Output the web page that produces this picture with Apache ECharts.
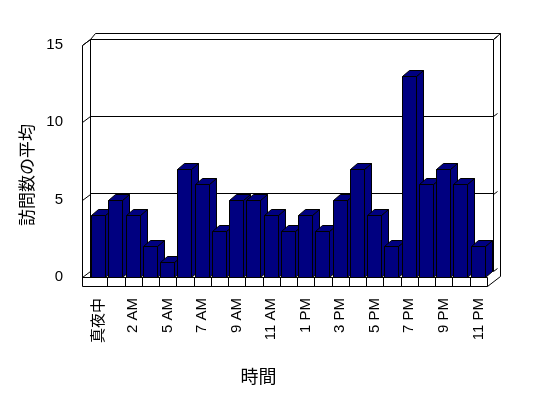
<!DOCTYPE html>
<html>
<head>
<meta charset="utf-8">
<script src="https://cdn.jsdelivr.net/npm/echarts@6/dist/echarts.min.js"></script>
<style>
html, body { margin: 0; padding: 0; background: #fff; }
#main { width: 548px; height: 398px; }
</style>
</head>
<body>
<div id="main"></div>
<script>
// data
var hours = ['真夜中', '1 AM', '2 AM', '3 AM', '5 AM', '6 AM', '7 AM', '8 AM', '9 AM', '10 AM', '11 AM', '12 PM',
    '1 PM', '2 PM', '3 PM', '4 PM', '5 PM', '6 PM', '7 PM', '8 PM', '9 PM', '10 PM', '11 PM'];
var visits = [4, 5, 4, 2, 1, 7, 6, 3, 5, 5, 4, 3, 4, 3, 5, 7, 4, 2, 13, 6, 7, 6, 2];
var yMin = 0, yMax = 15, yStep = 5;

// 3d frame layout
var DX = 8, DY = 6;
var FL = 82.5, BL = 90.5, BR = 493.5, OR = 500.5, FR = 487.5;
var TOP_OUT = 33.5, TOP_IN = 39.5, FLOOR = 277.5, FLOOR_B = 286.5;
var navy = '#000080';
var font = 'Liberation Sans, Arial, Noto Sans CJK JP, sans-serif';

var myChart = echarts.init(document.getElementById('main'));

function bar3d(params, api) {
    var top = api.coord([api.value(0), api.value(1)]);
    var base = api.coord([api.value(0), 0]);
    var w = api.size([1, 0])[0];
    var x0 = Math.round(top[0] - w / 2 + 1) + 0.5;
    var x1 = x0 + 14;
    var yt = Math.round(top[1]) + 0.5;
    var yb = Math.round(base[1]) + 0.5;
    var st = { fill: navy, stroke: '#000', lineWidth: 1 };
    return {
        type: 'group',
        children: [
            { type: 'polygon', shape: { points: [[x1, yt], [x1 + DX - 1, yt - DY], [x1 + DX - 1, yb - DY], [x1, yb]] }, style: st },
            { type: 'polygon', shape: { points: [[x0, yt], [x0 + DX - 1, yt - DY], [x1 + DX - 1, yt - DY], [x1, yt]] }, style: st },
            { type: 'rect', shape: { x: x0, y: yt, width: x1 - x0, height: yb - yt }, style: st }
        ]
    };
}

var option = {
    backgroundColor: '#fff',
    animation: false,
    grid: [
        { left: 90, right: 61, top: 45, bottom: 121 },
        { left: 90, right: 55, top: 39, bottom: 127 }
    ],
    xAxis: [
        {
            type: 'category',
            gridIndex: 0,
            data: hours,
            boundaryGap: true,
            axisLine: { show: false },
            axisTick: { show: false },
            axisLabel: { interval: 1, rotate: 90, margin: 21, color: '#000', fontSize: 15, fontFamily: font },
            name: '時間',
            nameLocation: 'middle',
            nameGap: 90,
            nameTextStyle: { color: '#000', fontSize: 18, fontFamily: 'Noto Sans CJK JP', padding: [0, 60, 0, 0] }
        },
        {
            type: 'category',
            gridIndex: 1,
            data: hours,
            show: false
        }
    ],
    yAxis: [
        {
            type: 'value',
            gridIndex: 0,
            min: yMin,
            max: yMax,
            interval: yStep,
            offset: 8,
            axisLine: { show: false },
            axisTick: { show: false },
            splitLine: { show: false },
            axisLabel: { margin: 19, color: '#000', fontSize: 15, fontFamily: font },
            name: '訪問数の平均',
            nameLocation: 'middle',
            nameGap: 45,
            nameTextStyle: { color: '#000', fontSize: 17, fontFamily: 'Noto Sans CJK JP', padding: [0, 28, 0, 0] }
        },
        {
            type: 'value',
            gridIndex: 1,
            min: yMin,
            max: yMax,
            interval: yStep,
            axisLine: { show: false },
            axisTick: { show: false },
            axisLabel: { show: false },
            splitLine: { show: true, lineStyle: { color: '#000', width: 1 } }
        }
    ],
    series: [
        {
            type: 'custom',
            xAxisIndex: 0,
            yAxisIndex: 0,
            z: 5,
            renderItem: bar3d,
            data: visits.map(function (v, i) { return [i, v]; })
        }
    ]
};

myChart.setOption(option);

// frame lines: walls and floor
function ln(x1, y1, x2, y2, z) {
    return { type: 'line', z: z || 1, silent: true, shape: { x1: x1, y1: y1, x2: x2, y2: y2 }, style: { stroke: '#000', lineWidth: 1 } };
}
var frame = [
    ln(FL, FLOOR - 232, FL, FLOOR_B, 10),
    ln(BL, TOP_IN, BL, FLOOR, 1),
    ln(FL, FLOOR - 232, BL, TOP_IN, 1),
    ln(BL, TOP_IN, BL + 5, TOP_OUT, 1),
    ln(BL + 5, TOP_OUT, OR, TOP_OUT, 1),
    ln(BR, TOP_IN, BR, FLOOR - DY, 1),
    ln(BR, TOP_IN, OR, TOP_OUT, 1),
    ln(OR, TOP_OUT, OR, FLOOR - 1, 1),
    ln(FL, FLOOR, FR, FLOOR, 10),
    ln(FL, FLOOR_B, FR, FLOOR_B, 10),
    ln(FR, FLOOR_B, OR, FLOOR - 1, 10)
];
// floor dividers at category boundaries (skip the one under the left wall)
var c0 = myChart.convertToPixel({ xAxisIndex: 0 }, 0);
var cw = myChart.convertToPixel({ xAxisIndex: 0 }, 1) - c0;
for (var k = 1; k <= hours.length; k++) {
    var xd = Math.round(c0 - cw / 2 + k * cw) + 0.5;
    frame.push(ln(xd, FLOOR, xd, FLOOR_B, 10));
}
// gridline ends running over the side walls
for (var v = yMin; v <= yMax; v += yStep) {
    var yf = Math.round(myChart.convertToPixel({ yAxisIndex: 0 }, v)) + 0.5;
    var yb = Math.round(myChart.convertToPixel({ yAxisIndex: 1 }, v)) + 0.5;
    frame.push(ln(FL, yf, BL, yb, 1));
    frame.push(ln(BR, yb, BR + 4, yb - 3, 1));
}
myChart.setOption({ graphic: frame });
</script>
</body>
</html>
